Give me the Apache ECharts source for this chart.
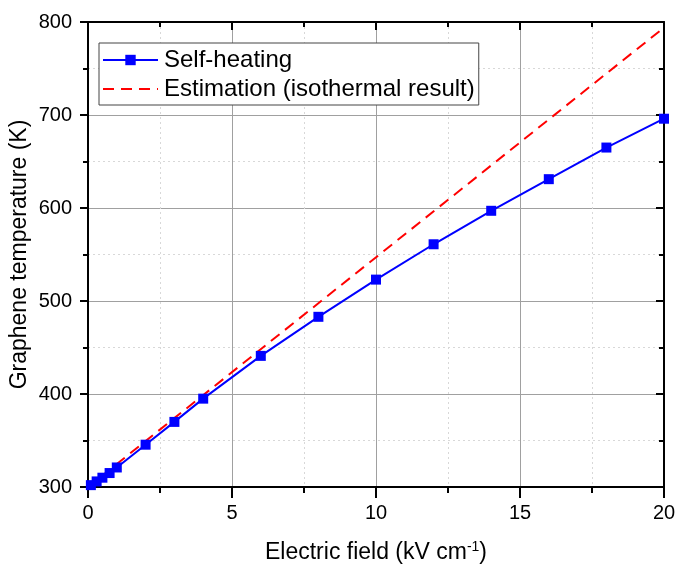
<!DOCTYPE html>
<html><head><meta charset="utf-8">
<script src="https://cdn.jsdelivr.net/npm/echarts@6/dist/echarts.min.js"></script>
<style>html,body{margin:0;padding:0;background:#fff}#c{width:676px;height:565px}</style>
</head><body><div id="c"></div>
<script>
var selfX = [0.1, 0.3, 0.5, 0.75, 1, 2, 3, 4, 6, 8, 10, 12, 14, 16, 18, 20];
var selfY = [302, 306, 310, 315, 321, 345.5, 370, 395, 441, 483, 523, 561, 597, 631, 665, 696];
var estX = [0, 20];
var estY = [300, 794];
var xTicks = [0, 5, 10, 15, 20];
var yTicks = [300, 400, 500, 600, 700, 800];

var F = '"Liberation Sans", Arial, sans-serif';
function pairs(xs, ys){ return xs.map(function(x,i){return [x, ys[i]];}); }

var chart = echarts.init(document.getElementById('c'), null, {renderer:'canvas'});
var axisLine = {show:true, onZero:false, lineStyle:{color:'#000', width:2}};
chart.setOption({
  animation:false,
  backgroundColor:'#fff',
  grid:{left:88, right:12, top:22, bottom:78, containLabel:false, outerBoundsMode:'none'},
  legend:{
    orient:'vertical', left:99, top:43,
    backgroundColor:'#fff',
    borderColor:'#444', borderWidth:1, borderRadius:0,
    padding:[5,4,4,3], itemGap:5,
    itemWidth:55, itemHeight:13,
    lineStyle:{width:2},
    textStyle:{fontFamily:F, fontSize:24, color:'#000', padding:[0,0,0,1]},
    data:[{name:'Self-heating'},{name:'Estimation (isothermal result)', itemStyle:{opacity:0}}]
  },
  xAxis:[{
    type:'value', min:xTicks[0], max:xTicks[xTicks.length-1], interval:5,
    name:'Electric field (kV cm{sup|-1})', nameLocation:'middle', nameGap:53,
    nameTextStyle:{fontFamily:F, fontSize:23, color:'#000',
      rich:{sup:{fontFamily:F, fontSize:14, color:'#000', verticalAlign:'top', padding:[0,0,12,0]}}},
    axisLine:axisLine,
    axisTick:{show:true, inside:false, length:11, lineStyle:{color:'#000', width:2}},
    minorTick:{show:true, splitNumber:2, length:6, lineStyle:{color:'#000', width:2}},
    axisLabel:{fontFamily:F, fontSize:20, color:'#000', margin:16},
    splitLine:{show:true, lineStyle:{color:'#a0a0a0', width:1}},
    minorSplitLine:{show:true, lineStyle:{color:'#d8d8d8', width:1, type:[2,3]}}
  },{
    type:'value', position:'top', min:0, max:20, interval:5,
    axisLine:axisLine,
    axisTick:{show:true, inside:true, length:8, lineStyle:{color:'#000', width:2}},
    minorTick:{show:true, splitNumber:2, length:5, lineStyle:{color:'#000', width:2}},
    axisLabel:{show:false}, splitLine:{show:false}
  }],
  yAxis:[{
    type:'value', min:yTicks[0], max:yTicks[yTicks.length-1], interval:100,
    name:'Graphene temperature (K)', nameLocation:'middle', nameGap:57, nameMoveOverlap:false,
    nameTextStyle:{fontFamily:F, fontSize:23, color:'#000'},
    axisLine:axisLine,
    axisTick:{show:true, inside:false, length:8, lineStyle:{color:'#000', width:2}},
    minorTick:{show:true, splitNumber:2, length:5, lineStyle:{color:'#000', width:2}},
    axisLabel:{fontFamily:F, fontSize:20, color:'#000', margin:16},
    splitLine:{show:true, lineStyle:{color:'#a0a0a0', width:1}},
    minorSplitLine:{show:true, lineStyle:{color:'#d8d8d8', width:1, type:[2,3]}}
  },{
    type:'value', position:'right', min:300, max:800, interval:100,
    axisLine:axisLine,
    axisTick:{show:true, inside:true, length:8, lineStyle:{color:'#000', width:2}},
    minorTick:{show:true, splitNumber:2, length:5, lineStyle:{color:'#000', width:2}},
    axisLabel:{show:false}, splitLine:{show:false}
  }],
  series:[{
    name:'Estimation (isothermal result)', type:'line', data:pairs(estX, estY),
    showSymbol:false, symbol:'none',
    lineStyle:{color:'#ff0000', width:2, type:[11,7]}, itemStyle:{color:'#ff0000'}, z:2
  },{
    name:'Self-heating', type:'line', data:pairs(selfX, selfY),
    symbol:'rect', symbolSize:10,
    lineStyle:{color:'#0000ff', width:2}, itemStyle:{color:'#0000ff'}, z:3
  }]
});
</script></body></html>
